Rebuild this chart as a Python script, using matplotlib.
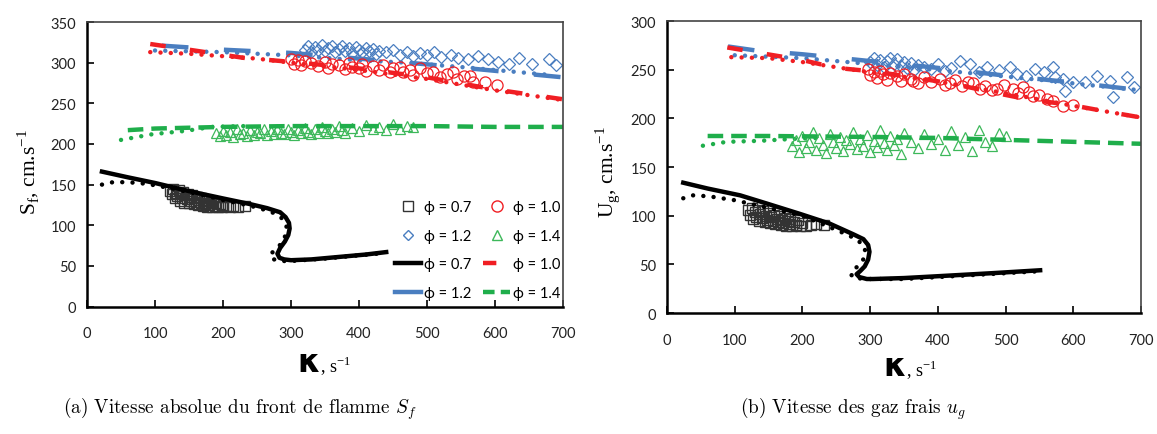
import matplotlib
matplotlib.use("Agg")
import matplotlib.pyplot as plt
from matplotlib.lines import Line2D

plt.rcParams['font.family'] = ['Lato', 'DejaVu Sans']

# ---- left panel : S_f ----
# simulation phi = 0.7 (solid) and second model (dotted)
k07_l = [22, 60, 100, 150, 200, 240, 265, 284, 292, 297, 298, 296, 291, 284, 280, 283, 290, 300, 330, 370, 410, 440]
s07_l = [166, 159, 152, 142, 133, 126, 121, 116, 110, 103, 96, 88, 80, 72, 65, 60, 58, 57, 58, 61, 64, 67]
k07d_l = [22, 38, 60, 88, 120, 160, 200, 240, 270, 285, 293, 294, 288, 279, 273, 269, 275, 284, 300, 350, 400, 440]
s07d_l = [150, 153, 153, 151, 146, 139, 131, 124, 117, 110, 101, 93, 79, 72, 67, 61, 58, 56, 56, 59, 63, 66]
k10_l = [93, 150, 230, 300, 400, 500, 600, 700]
s10_l = [323, 316, 306, 301, 293, 282, 267, 255]
k10d_l = [93, 150, 200, 250, 300, 400, 500, 600, 700]
s10d_l = [313, 311, 308, 305, 300, 291, 280, 266, 254]
k12_l = [110, 200, 300, 400, 500, 600, 700]
s12_l = [321, 316, 312, 305, 298, 290, 282]
k12d_l = [100, 200, 300, 400, 470, 560, 680]
s12d_l = [315, 313, 309, 303, 300, 294, 285]
k14_l = [60, 100, 150, 200, 300, 400, 500, 600, 700]
s14_l = [217, 219, 220, 221, 222, 222, 222, 221, 221]
k14d_l = [50, 96, 144, 184, 230]
s14d_l = [205, 212, 216, 221, 222]

# experiments
sq_l_x = [122, 125, 127, 130, 131, 133, 135, 137, 138, 140, 141, 143, 145, 147, 148, 150, 151, 153, 155, 157,
          158, 160, 162, 163, 165, 167, 168, 170, 172, 174, 175, 177, 179, 180, 182, 184, 186, 188, 190, 192,
          195, 198, 200, 204, 210, 215, 222, 233]
sq_l_y = [142, 138, 144, 133, 140, 136, 143, 130, 138, 134, 141, 128, 137, 132, 139, 127, 135, 130, 137, 126,
          133, 129, 135, 125, 131, 127, 133, 124, 130, 126, 131, 123, 128, 125, 129, 122, 127, 124, 128, 123,
          126, 122, 125, 124, 123, 124, 123, 124]
ci_l_x = [300, 305, 310, 315, 320, 330, 340, 350, 355, 360, 370, 380, 385, 390, 400, 405, 410, 420, 430, 435,
          445, 450, 460, 465, 475, 480, 490, 500, 509, 519, 530, 538, 544, 555, 563, 568, 585, 603]
ci_l_y = [305, 299, 303, 297, 302, 300, 296, 301, 294, 299, 297, 292, 300, 295, 293, 298, 290, 296, 291, 297,
          289, 294, 295, 288, 291, 285, 293, 287, 289, 283, 286, 289, 280, 284, 284, 276, 276, 272]
di_l_x = [320, 325, 330, 335, 340, 345, 350, 355, 360, 365, 370, 375, 380, 385, 390, 395, 400, 405, 410, 415,
          420, 425, 430, 440, 450, 460, 470, 480, 490, 500, 510, 520, 535, 545, 560, 575, 590, 605, 620, 635,
          655, 680, 690]
di_l_y = [316, 320, 313, 319, 316, 322, 314, 318, 321, 313, 317, 320, 315, 318, 312, 319, 316, 313, 318, 314,
          317, 311, 315, 313, 316, 310, 313, 308, 312, 309, 313, 307, 310, 306, 305, 308, 304, 301, 299, 306,
          299, 304, 297]
tr_l_x = [190, 195, 200, 205, 210, 215, 220, 225, 230, 235, 240, 245, 250, 255, 260, 265, 270, 275, 280, 285,
          290, 295, 300, 305, 310, 315, 320, 325, 330, 335, 340, 345, 350, 355, 360, 365, 370, 375, 380, 390,
          400, 410, 420, 430, 440, 450, 460, 470, 480]
tr_l_y = [213, 210, 216, 211, 215, 209, 218, 212, 214, 210, 217, 211, 215, 213, 219, 211, 216, 212, 218, 214,
          212, 219, 215, 211, 217, 213, 220, 215, 212, 218, 214, 221, 216, 213, 219, 215, 222, 217, 214, 220,
          216, 223, 218, 221, 217, 224, 219, 222, 221]

# ---- right panel : U_g ----
k07_r = [24, 60, 108, 150, 196, 240, 275, 290, 297, 299, 297, 292, 285, 280, 284, 295, 304, 350, 403, 480, 551]
u07_r = [134, 128, 121, 112, 102, 92, 81, 76, 70, 63, 55, 48, 43, 40, 37, 35, 35, 36, 38, 41, 44]
k07d_r = [24, 38, 62, 100, 150, 200, 255, 280, 292, 293, 283, 272, 273, 290, 350, 450, 550]
u07d_r = [118, 121, 120, 116, 108, 100, 84, 76, 68, 58, 49, 42, 37, 35, 35, 39, 43]
k10_r = [89, 140, 200, 250, 310, 420, 480, 530, 595, 650, 700]
u10_r = [273, 267, 260, 252, 248, 236, 227, 220, 214, 207, 201]
k10d_r = [95, 150, 200, 285, 400, 500, 600, 700]
u10d_r = [263, 262, 258, 249, 238, 226, 213, 201]
k12_r = [90, 130, 200, 300, 400, 500, 600, 700]
u12_r = [274, 270, 266, 259, 252, 244, 237, 229]
k12d_r = [100, 200, 300, 443, 561, 669, 700]
u12d_r = [265, 262, 256, 247, 239, 231, 229]
k14_r = [60, 150, 300, 400, 500, 600, 700]
u14_r = [182, 182, 181, 180, 178, 176, 174]
k14d_r = [53, 88, 137, 186, 230]
u14d_r = [172, 176, 177, 179, 180]

sq_r_x = [120, 123, 125, 127, 130, 132, 134, 136, 138, 140, 142, 144, 146, 148, 150, 152, 154, 156, 158, 160,
          162, 164, 166, 168, 170, 172, 174, 176, 178, 180, 182, 185, 188, 190, 193, 196, 200, 205, 212, 220, 232]
sq_r_y = [106, 101, 108, 97, 104, 99, 106, 95, 102, 98, 105, 94, 100, 96, 103, 93, 99, 95, 101, 92,
          97, 94, 100, 91, 96, 93, 98, 90, 95, 92, 97, 89, 94, 91, 96, 90, 93, 90, 91, 92, 91]
ci_r_x = [297, 300, 305, 310, 315, 319, 325, 330, 340, 345, 350, 360, 363, 370, 380, 390, 403, 410, 418, 425,
          435, 445, 452, 462, 470, 480, 487, 497, 511, 518, 526, 535, 541, 550, 561, 570, 585, 600]
ci_r_y = [251, 245, 248, 242, 249, 246, 240, 247, 244, 239, 246, 241, 239, 236, 243, 238, 241, 234, 236, 240,
          233, 237, 236, 230, 233, 229, 230, 234, 230, 226, 232, 227, 223, 224, 220, 218, 213, 214]
di_r_x = [300, 305, 310, 315, 320, 325, 330, 335, 340, 345, 350, 355, 360, 365, 370, 380, 390, 400, 410, 420,
          433, 448, 460, 473, 490, 507, 517, 530, 544, 556, 570, 573, 585, 588, 600, 617, 635, 654, 659, 679, 690]
di_r_y = [258, 262, 255, 260, 253, 259, 262, 256, 261, 254, 258, 252, 257, 250, 255, 253, 251, 256, 249, 252,
          259, 256, 248, 253, 250, 253, 246, 244, 251, 248, 253, 243, 241, 228, 238, 237, 244, 239, 222, 243, 232]
tr_r_x = [185, 190, 195, 200, 205, 210, 215, 220, 225, 230, 235, 240, 245, 250, 255, 260, 265, 270, 275, 280,
          285, 290, 295, 300, 305, 310, 315, 320, 325, 330, 335, 340, 345, 350, 360, 370, 380, 390, 400, 410,
          420, 430, 440, 450, 460, 470, 480, 490, 500]
tr_r_y = [172, 178, 166, 182, 170, 176, 186, 168, 180, 173, 165, 184, 176, 170, 181, 167, 178, 174, 186, 169,
          179, 172, 183, 166, 177, 171, 188, 175, 168, 182, 173, 179, 164, 185, 176, 170, 184, 174, 179, 168,
          187, 173, 181, 167, 188, 176, 172, 185, 182]

BLUE = '#4A7EC0'
RED = '#F01E23'
GREEN = '#1FAE4B'
TRI = '#3DB85A'
dot = (0, (0.01, 2.3))

fig = plt.figure(figsize=(11.57, 4.35), dpi=100)
ax1 = fig.add_axes([0.0752, 0.293, 0.4114, 0.654])
ax2 = fig.add_axes([0.5765, 0.278, 0.4097, 0.671])


def draw(ax, d):
    (k07, s07, k07d, s07d, k10, s10, k10d, s10d, k12, s12, k12d, s12d, k14, s14, k14d, s14d,
     sqx, sqy, cix, ciy, dix, diy, trx, try_) = d
    ax.plot(k14d, s14d, color=GREEN, lw=3.2, ls=dot, dash_capstyle='round')
    ax.plot(trx, try_, ls='none', marker='^', ms=7, mfc='none', mec=TRI, mew=0.9)
    ax.plot(k14, s14, color=GREEN, lw=3.2, ls=(0, (3.5, 1.8)))
    ax.plot(k12d, s12d, color=BLUE, lw=3.2, ls=dot, dash_capstyle='round')
    ax.plot(k12, s12, color=BLUE, lw=3.2, ls=(0, (6, 8)))
    ax.plot(dix, diy, ls='none', marker='D', ms=5.8, mfc='none', mec=BLUE, mew=0.9)
    ax.plot(k10d, s10d, color=RED, lw=3.2, ls=dot, dash_capstyle='round')
    ax.plot(k10, s10, color=RED, lw=3.2, ls=(0, (3.5, 5.5)))
    ax.plot(cix, ciy, ls='none', marker='o', ms=8, mfc='none', mec=RED, mew=0.9)
    ax.plot(sqx, sqy, ls='none', marker='s', ms=6.5, mfc='none', mec='#333333', mew=1.0)
    ax.plot(k07d, s07d, color='black', lw=3.2, ls=dot, dash_capstyle='round')
    ax.plot(k07, s07, color='black', lw=3.2)
    ax.set_xlim(0, 700)
    ax.set_xticks(range(0, 701, 100))
    ax.tick_params(direction='in', length=5, width=1.2, labelsize=10.5, labelcolor='#222222',
                   top=False, right=False)
    ax.tick_params(axis='x', pad=14)
    ax.tick_params(axis='y', pad=8)
    for side in ['left', 'bottom']:
        ax.spines[side].set_linewidth(1.8)
    for side in ['top', 'right']:
        ax.spines[side].set_linewidth(1.2)
        ax.spines[side].set_color('#444444')


draw(ax1, (k07_l, s07_l, k07d_l, s07d_l, k10_l, s10_l, k10d_l, s10d_l, k12_l, s12_l, k12d_l, s12d_l,
           k14_l, s14_l, k14d_l, s14d_l, sq_l_x, sq_l_y, ci_l_x, ci_l_y, di_l_x, di_l_y, tr_l_x, tr_l_y))
draw(ax2, (k07_r, u07_r, k07d_r, u07d_r, k10_r, u10_r, k10d_r, u10d_r, k12_r, u12_r, k12d_r, u12d_r,
           k14_r, u14_r, k14d_r, u14d_r, sq_r_x, sq_r_y, ci_r_x, ci_r_y, di_r_x, di_r_y, tr_r_x, tr_r_y))
ax1.set_ylim(0, 350)
ax1.set_yticks(range(0, 351, 50))
ax2.set_ylim(0, 300)
ax2.set_yticks(range(0, 301, 50))

# legend (left panel only)
h = [Line2D([], [], ls='none', marker='s', ms=6.5, mfc='none', mec='#333333'),
     Line2D([], [], ls='none', marker='D', ms=5.5, mfc='none', mec=BLUE),
     Line2D([], [], color='black', lw=3.2),
     Line2D([], [], color=BLUE, lw=3.2),
     Line2D([], [], ls='none', marker='o', ms=8, mfc='none', mec=RED),
     Line2D([], [], ls='none', marker='^', ms=7, mfc='none', mec=TRI),
     Line2D([], [], color=RED, lw=3.2, ls=(0.5, (3.5, 5.5))),
     Line2D([], [], color=GREEN, lw=3.2, ls=(0, (2.6, 1.4)))]
labs = ['ϕ = 0.7', 'ϕ = 1.2', 'ϕ = 0.7', 'ϕ = 1.2', 'ϕ = 1.0', 'ϕ = 1.4', 'ϕ = 1.0', 'ϕ = 1.4']
ax1.legend(h, labs, ncol=2, loc='upper left', bbox_to_anchor=(0.62, 0.42), frameon=False,
           prop={'family': ['Lato', 'DejaVu Sans'], 'size': 10.5}, handlelength=1.8,
           handletextpad=0.2, labelspacing=1.0, columnspacing=0.8)

# axis titles
ser = ['Liberation Serif', 'DejaVu Serif']
fig.text(0.024, 0.605, r'S$_\mathregular{f}$, cm.s$^\mathregular{-1}$', rotation=90, ha='center',
         va='center', fontsize=15.5, family=ser)
fig.text(0.525, 0.605, r'U$_\mathregular{g}$, cm.s$^\mathregular{-1}$', rotation=90, ha='center',
         va='center', fontsize=15.5, family=ser)
for xc, yc in [(0.277, 0.145), (0.783, 0.135)]:
    fig.text(xc, yc, 'κ', ha='right', va='baseline', fontsize=23, fontweight='bold',
             family=['DejaVu Sans'])
    fig.text(xc, yc, r', s$^\mathregular{-1}$', ha='left', va='baseline', fontsize=13, family=ser)

# captions
fig.text(0.2074, 0.05, r'(a) Vitesse absolue du front de flamme $S_f$', ha='center', va='baseline',
         fontsize=13.8, family='cmr10', math_fontfamily='cm')
fig.text(0.737, 0.05, r'(b) Vitesse des gaz frais $u_g$', ha='center', va='baseline',
         fontsize=13.8, family='cmr10', math_fontfamily='cm')

fig.savefig('out.png', dpi=100)
